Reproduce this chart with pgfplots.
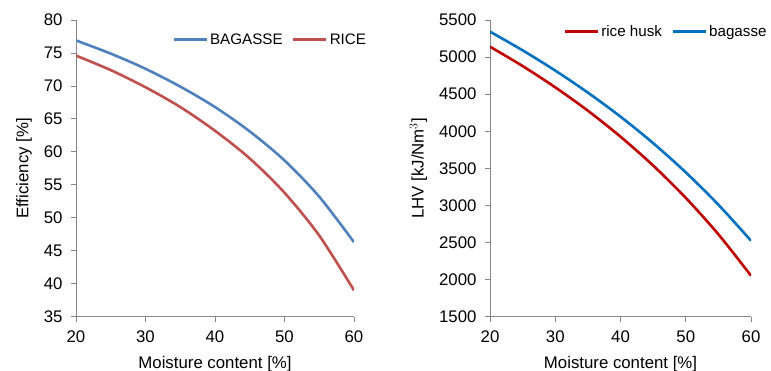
\documentclass[border=0pt]{standalone}
\usepackage{pgfplots}
\pgfplotsset{compat=1.18}
\usepackage{fontspec}
\setmainfont{Liberation Sans}
\definecolor{lblue}{HTML}{4F81BD}
\definecolor{lred}{HTML}{C0504D}
\definecolor{rred}{HTML}{C00000}
\definecolor{rblue}{HTML}{0070C0}
\definecolor{axgray}{HTML}{868686}
\pgfplotsset{
  mystyle/.style={
    scale only axis,
    axis x line*=bottom, axis y line*=left,
    axis line style={draw=axgray, line width=0.8pt, -},
    tick align=outside, major tick length=5pt,
    tick style={draw=axgray, line width=0.8pt},
    xmin=20, xmax=60, xtick={20,30,...,60},
    /pgf/number format/assume math mode=true,
    /pgf/number format/set thousands separator={},
    tick label style={font=\fontsize{16.8}{19}\selectfont},
    xticklabel style={yshift=-6pt},
    yticklabel style={xshift=-5pt},
    label style={font=\fontsize{16.8}{19}\selectfont},
    xlabel={Moisture content [\%]},
    xlabel shift=6pt,
    ylabel shift=5pt,
    legend style={draw=none, fill=none, font=\fontsize{15.2}{17}\selectfont, inner sep=0pt,
      /tikz/every even column/.append style={column sep=7pt}},
    legend columns=2,
    legend image code/.code={\draw[#1, line width=3pt] (0pt,0pt) -- (33pt,0pt);},
    every axis plot/.append style={line width=2.6pt, smooth, no markers},
  }
}
\begin{document}
\begin{tikzpicture}
\path[use as bounding box] (0pt,0pt) rectangle (771pt,371pt);
\begin{axis}[mystyle, at={(76pt,54.3pt)}, anchor=south west, width=278pt, height=296.7pt,
  ymin=35, ymax=80, ytick={35,40,...,80},
  ylabel={Efficiency [\%]},
  legend style={at={(0.345,0.933)}, anchor=west}]
\addplot[lblue] coordinates {(20,76.9) (25,74.9) (30,72.6) (35,69.9) (40,66.8) (45,63.1) (50,58.7) (55,53.2) (60,46.3)};
\addlegendentry{BAGASSE}
\addplot[lred] coordinates {(20,74.6) (25,72.4) (30,69.8) (35,66.8) (40,63.2) (45,59.0) (50,53.8) (55,47.3) (60,39.0)};
\addlegendentry{RICE}
\end{axis}
\begin{axis}[mystyle, at={(490pt,54.3pt)}, anchor=south west, width=261pt, height=296.7pt,
  ymin=1500, ymax=5500, ytick={1500,2000,...,5500},
  ylabel={LHV [kJ/Nm$^3$]},
  legend style={at={(0.28,0.96)}, anchor=west}]
\addplot[rred] coordinates {(20,5140) (25,4879) (30,4592) (35,4277) (40,3927) (45,3538) (50,3102) (55,2611) (60,2053)};
\addlegendentry{rice husk}
\addplot[rblue] coordinates {(20,5343) (25,5091) (30,4818) (35,4521) (40,4197) (45,3840) (50,3446) (55,3010) (60,2525)};
\addlegendentry{bagasse}
\end{axis}
\end{tikzpicture}
\end{document}
